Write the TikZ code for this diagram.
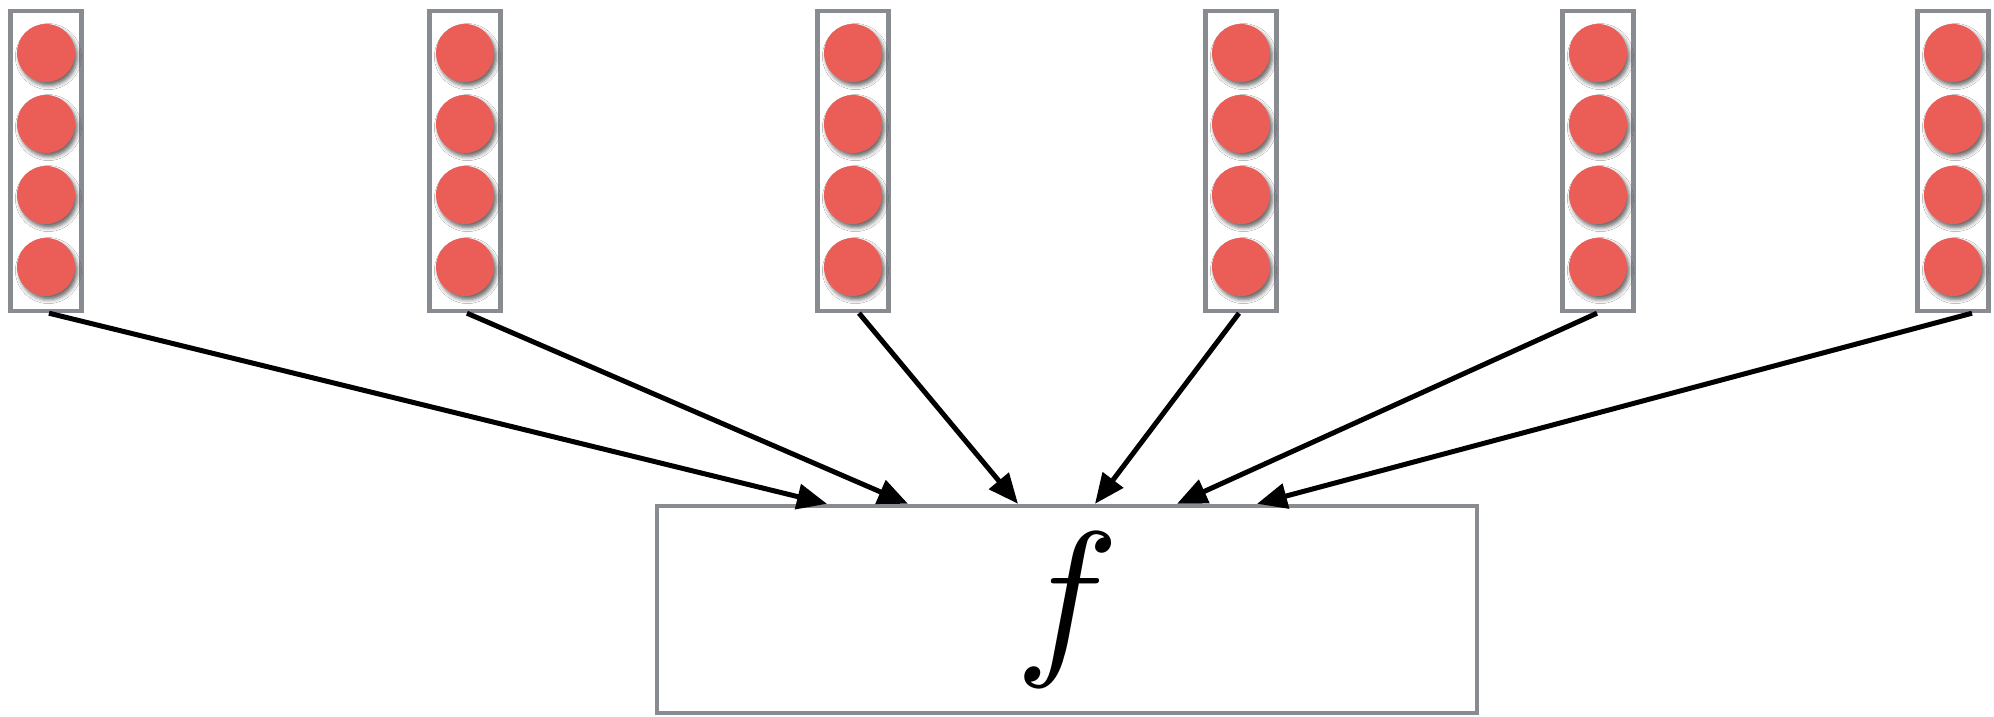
\documentclass[tikz,border=0pt]{standalone}
\usepackage{graphicx}
\usetikzlibrary{arrows.meta,shadows.blur}
\definecolor{unitred}{RGB}{235,94,87}
\definecolor{framegray}{RGB}{136,139,144}
\tikzset{
  layer/.style = {shape=rectangle, draw=framegray, line width=2.2pt,
                  fill=white, inner sep=0pt,
                  minimum width=35.5pt, minimum height=150pt},
  unit/.style  = {shape=circle, fill=unitred, inner sep=0pt,
                  minimum size=29pt,
                  blur shadow={shadow xshift=1.2pt, shadow yshift=-1.8pt,
                               shadow blur radius=2pt, shadow opacity=60}},
  func/.style  = {shape=rectangle, draw=framegray, line width=2.2pt,
                  minimum width=410pt, minimum height=103.5pt}
}

\begin{document}
\begin{tikzpicture}
[
x=0.5pt, y=-0.5pt,
    feed/.style = {draw, line width=2.5pt, -{Triangle[length=15pt,width=12.5pt]}}
  ]
\useasboundingbox (0,0) rectangle (1994,717);
% input columns
\foreach \name/\x in {c1/46, c2/465, c3/853, c4/1241, c5/1598, c6/1953}{
  \node[layer] (\name) at (\x,161) {};
  \foreach \i/\y in {1/53, 2/124, 3/195, 4/267}
    \node[unit] (\name u\i) at (\x,\y) {};
}
% function box
\node[func] (fbox) at (1067,609.5) {\scalebox{8.7}{$f$}};
\draw[feed] ([xshift=1.5pt]c1.south)  -- ([xshift=-120pt]fbox.north);
\draw[feed] ([xshift=1pt]c2.south)    -- ([xshift=-79.5pt]fbox.north);
\draw[feed] ([xshift=3pt]c3.south)    -- ([xshift=-24.5pt]fbox.north);
\draw[feed] ([xshift=-1pt]c4.south)   -- ([xshift=14pt]fbox.north);
\draw[feed] ([xshift=-0.5pt]c5.south) -- ([xshift=55pt]fbox.north);
\draw[feed] ([xshift=9.5pt]c6.south)  -- ([xshift=95pt]fbox.north);
\end{tikzpicture}
\end{document}
